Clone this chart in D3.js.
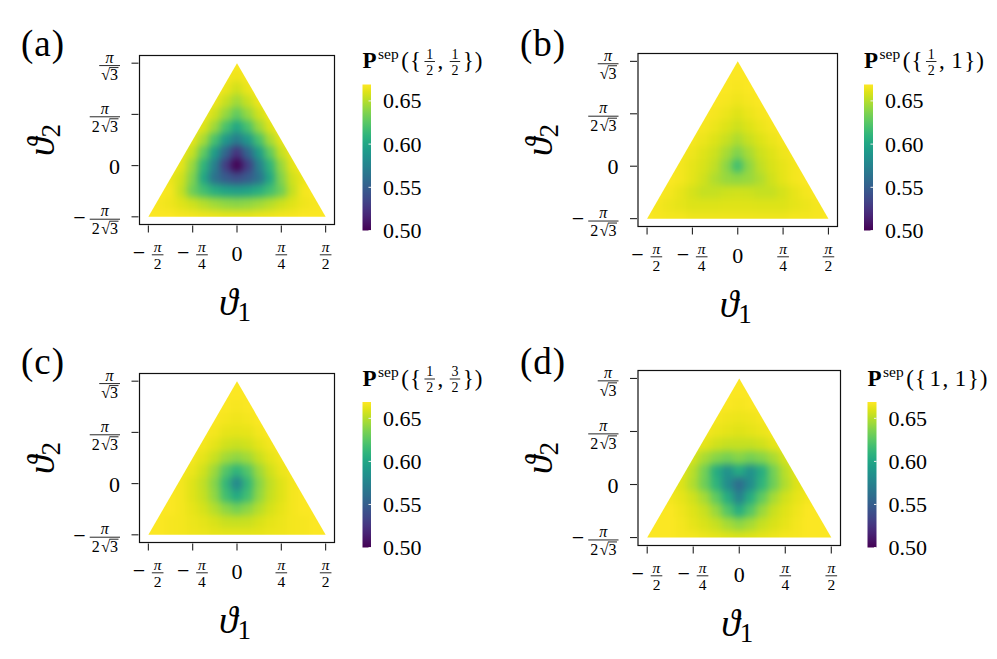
<!DOCTYPE html>
<html><head><meta charset="utf-8">
<script src="https://cdn.jsdelivr.net/npm/d3@7"></script>
<style>
body{margin:0;background:#fff}
svg{display:block}
text{font-family:"Liberation Serif","DejaVu Serif",serif;fill:#000}
</style></head><body>
<svg id="c" width="997" height="659"></svg>
<script>
const PI = Math.PI, S3 = Math.sqrt(3);

// ---- grid of sample points (theta1 columns, theta2 rows from top vertex down to bottom edge)
const theta1Grid = d3.range(-8, 9).map(k => k * PI / 16);
const theta2Grid = d3.range(0, 13).map(j => PI / S3 - j * PI / (8 * S3));

// ---- values (rows: top -> bottom, columns: left -> right)
const panelA = [
[.668,.668,.668,.668,.668,.668,.668,.668,.668,.668,.668,.668,.668,.668,.668,.668,.668],
[.668,.668,.668,.668,.668,.668,.668,.667,.665,.667,.668,.668,.668,.668,.668,.668,.668],
[.668,.668,.668,.668,.668,.668,.668,.664,.657,.664,.668,.668,.668,.668,.668,.668,.668],
[.668,.668,.668,.668,.668,.668,.665,.655,.645,.655,.665,.668,.668,.668,.668,.668,.668],
[.668,.668,.668,.668,.668,.666,.657,.642,.628,.642,.657,.666,.668,.668,.668,.668,.668],
[.668,.668,.668,.668,.668,.660,.644,.620,.600,.620,.644,.660,.668,.668,.668,.668,.668],
[.668,.668,.668,.668,.663,.647,.620,.590,.570,.590,.620,.647,.663,.668,.668,.668,.668],
[.668,.668,.668,.665,.654,.628,.593,.555,.525,.555,.593,.628,.654,.665,.668,.668,.668],
[.668,.668,.668,.662,.643,.610,.573,.530,.500,.530,.573,.610,.643,.662,.668,.668,.668],
[.668,.668,.664,.657,.637,.601,.564,.548,.540,.548,.564,.601,.637,.657,.664,.668,.668],
[.668,.668,.666,.654,.632,.618,.606,.598,.594,.598,.606,.618,.632,.654,.666,.668,.668],
[.668,.667,.665,.661,.656,.650,.645,.641,.639,.641,.645,.650,.656,.661,.665,.667,.668],
[.668,.668,.668,.667,.666,.665,.664,.662,.662,.662,.664,.665,.666,.667,.668,.668,.668]
];
const panelB = [
[.668,.668,.668,.668,.668,.668,.668,.668,.668,.668,.668,.668,.668,.668,.668,.668,.668],
[.668,.668,.668,.668,.668,.668,.668,.668,.668,.668,.668,.668,.668,.668,.668,.668,.668],
[.668,.668,.668,.668,.668,.668,.668,.668,.667,.668,.668,.668,.668,.668,.668,.668,.668],
[.668,.668,.668,.668,.668,.668,.668,.667,.665,.667,.668,.668,.668,.668,.668,.668,.668],
[.668,.668,.668,.668,.668,.668,.667,.664,.661,.664,.667,.668,.668,.668,.668,.668,.668],
[.668,.668,.668,.668,.668,.667,.664,.660,.656,.660,.664,.667,.668,.668,.668,.668,.668],
[.668,.668,.668,.668,.667,.664,.660,.655,.648,.655,.660,.664,.667,.668,.668,.668,.668],
[.668,.668,.668,.667,.665,.661,.656,.647,.637,.647,.656,.661,.665,.667,.668,.668,.668],
[.668,.668,.668,.666,.663,.659,.653,.640,.618,.640,.653,.659,.663,.666,.668,.668,.668],
[.668,.668,.668,.666,.662,.657,.649,.643,.641,.643,.649,.657,.662,.666,.668,.668,.668],
[.668,.668,.666,.663,.658,.654,.654,.656,.657,.656,.654,.654,.658,.663,.666,.668,.668],
[.667,.666,.664,.662,.660,.660,.660,.661,.661,.661,.660,.660,.660,.662,.664,.666,.667],
[.668,.667,.666,.666,.665,.665,.665,.665,.665,.665,.665,.665,.665,.666,.666,.667,.668]
];
const panelC = [
[.668,.668,.668,.668,.668,.668,.668,.668,.668,.668,.668,.668,.668,.668,.668,.668,.668],
[.668,.668,.668,.668,.668,.668,.668,.668,.668,.668,.668,.668,.668,.668,.668,.668,.668],
[.668,.668,.668,.668,.668,.668,.668,.668,.667,.668,.668,.668,.668,.668,.668,.668,.668],
[.668,.668,.668,.668,.668,.668,.668,.666,.665,.666,.668,.668,.668,.668,.668,.668,.668],
[.668,.668,.668,.668,.668,.668,.666,.663,.662,.663,.666,.668,.668,.668,.668,.668,.668],
[.668,.668,.668,.668,.668,.666,.662,.657,.655,.657,.662,.666,.668,.668,.668,.668,.668],
[.668,.668,.668,.668,.666,.662,.655,.645,.640,.645,.655,.662,.666,.668,.668,.668,.668],
[.668,.668,.668,.667,.664,.657,.644,.624,.610,.624,.644,.657,.664,.667,.668,.668,.668],
[.668,.668,.668,.666,.661,.653,.638,.612,.578,.612,.638,.653,.661,.666,.668,.668,.668],
[.668,.668,.668,.666,.661,.654,.641,.618,.602,.618,.641,.654,.661,.666,.668,.668,.668],
[.668,.668,.668,.666,.663,.658,.650,.640,.634,.640,.650,.658,.663,.666,.668,.668,.668],
[.668,.668,.667,.666,.664,.662,.659,.655,.654,.655,.659,.662,.664,.666,.667,.668,.668],
[.668,.668,.667,.666,.665,.664,.663,.662,.662,.662,.663,.664,.665,.666,.667,.668,.668]
];
const panelD = [
[.668,.668,.668,.668,.668,.668,.668,.668,.668,.668,.668,.668,.668,.668,.668,.668,.668],
[.668,.668,.668,.668,.668,.668,.668,.668,.668,.668,.668,.668,.668,.668,.668,.668,.668],
[.668,.668,.668,.668,.668,.668,.668,.668,.667,.668,.668,.668,.668,.668,.668,.668,.668],
[.668,.668,.668,.668,.668,.668,.667,.665,.664,.665,.667,.668,.668,.668,.668,.668,.668],
[.668,.668,.668,.668,.668,.667,.664,.662,.661,.662,.664,.667,.668,.668,.668,.668,.668],
[.668,.668,.668,.668,.666,.662,.657,.654,.654,.654,.657,.662,.666,.668,.668,.668,.668],
[.668,.668,.668,.665,.658,.647,.638,.634,.638,.634,.638,.647,.658,.665,.668,.668,.668],
[.668,.668,.666,.662,.651,.633,.605,.585,.603,.585,.605,.633,.651,.662,.666,.668,.668],
[.668,.668,.665,.660,.649,.632,.610,.582,.560,.582,.610,.632,.649,.660,.665,.668,.668],
[.668,.668,.666,.663,.657,.646,.628,.605,.575,.605,.628,.646,.657,.663,.666,.668,.668],
[.668,.668,.668,.665,.661,.655,.643,.624,.605,.624,.643,.655,.661,.665,.668,.668,.668],
[.668,.668,.668,.666,.663,.659,.654,.646,.640,.646,.654,.659,.663,.666,.668,.668,.668],
[.668,.668,.668,.667,.666,.664,.662,.660,.659,.660,.662,.664,.666,.667,.668,.668,.668]
];

// ---- axes / ticks / labels
const xTickValues = [-PI/2, -PI/4, 0, PI/4, PI/2];
const xTickLabels = [{s:'−', n:'π', d:'2'}, {s:'−', n:'π', d:'4'}, {t:'0'}, {s:'', n:'π', d:'4'}, {s:'', n:'π', d:'2'}];
const yTickValues = [-PI/(2*S3), 0, PI/(2*S3), PI/S3];
const yTickLabels = [{s:'−', n:'π', d:'2√3'}, {t:'0'}, {s:'', n:'π', d:'2√3'}, {s:'', n:'π', d:'√3'}];
const cbTicks = [0.50, 0.55, 0.60, 0.65];
const cbTickLabels = ['0.50', '0.55', '0.60', '0.65'];
const cbRange = [0.5, 0.669];
const panelLetters = ['(a)', '(b)', '(c)', '(d)'];
const cbArgs = [[['1','2'],['1','2']], [['1','2'],'1'], [['1','2'],['3','2']], ['1','1']];
const triangle = [[-PI/2, -PI/(2*S3)], [PI/2, -PI/(2*S3)], [0, PI/S3]];
const xDomain = [-1.1*PI/2, 1.1*PI/2];
const yPad = 0.05 * 1.5 * PI / S3;
const yDomain = [-PI/(2*S3) - yPad, PI/S3 + yPad];

// layout (pixels)
const layout = [
  {fx0:139.5, fx1:334.5, fy0:55.5, fy1:224.5, cx0:362.5, cx1:371, cy0:84.5, cy1:230.5, lx:21, ly:56},
  {fx0:638, fx1:837.5, fy0:53.5, fy1:226.5, cx0:864, cx1:873, cy0:84.5, cy1:230.5, lx:520, ly:56},
  {fx0:139.5, fx1:334.5, fy0:373.5, fy1:542.5, cx0:362.5, cx1:371, cy0:402, cy1:547.5, lx:21, ly:374},
  {fx0:638, fx1:840.5, fy0:370.5, fy1:545.5, cx0:867.5, cx1:876.5, cy0:402, cy1:547.5, lx:520, ly:374}
];
const datasets = [panelA, panelB, panelC, panelD];

const svg = d3.select('#c');
const defs = svg.append('defs');
const color = d3.scaleSequential(d3.interpolateViridis).domain(cbRange);

const filt = defs.append('filter').attr('id','soft')
  .attr('filterUnits','userSpaceOnUse').attr('x',0).attr('y',0).attr('width',997).attr('height',659)
  .attr('color-interpolation-filters','sRGB');
filt.append('feGaussianBlur').attr('stdDeviation', 3.9);

const grad = defs.append('linearGradient').attr('id','vir').attr('x1',0).attr('y1',1).attr('x2',0).attr('y2',0);
d3.range(0, 1.0001, 0.05).forEach(t => grad.append('stop').attr('offset', t).attr('stop-color', color(cbRange[0] + t*(cbRange[1]-cbRange[0]))));

function measure(s, size, style, weight) {
  const t = svg.append('text').attr('font-size', size).attr('font-style', style||'normal').attr('font-weight', weight||'normal').text(s);
  const w = t.node().getComputedTextLength(); t.remove(); return w;
}

function denParts(den, size) {
  const ri = den.indexOf('√');
  if (ri < 0) return {root:false, w: measure(den, size)};
  const pre = den.slice(0, ri), rad = den.slice(ri + 1);
  const preW = pre ? measure(pre, size) + 1.5 : 0, rootW = measure('√', size), radW = measure(rad, size);
  return {root:true, pre, rad, preW, rootW, radW, w: preW + rootW + radW};
}
function fracWidth(num, den, size) {
  const numW = measure(num, size, num === 'π' ? 'italic' : 'normal');
  return Math.max(numW, denParts(den, size).w) + size * 0.25;
}
// fraction drawn as tspans of text element T (created if absent) plus bar line
function drawFrac(g, cx, barY, num, den, size, numOff, denOff, T) {
  const bw = fracWidth(num, den, size);
  g.append('line').attr('x1', cx - bw/2).attr('x2', cx + bw/2).attr('y1', barY).attr('y2', barY)
    .attr('stroke', '#000').attr('stroke-width', 0.85);
  const numW = measure(num, size, num === 'π' ? 'italic' : 'normal');
  if (!T) T = g.append('text');
  T.append('tspan').attr('x', cx - numW/2).attr('y', barY - numOff).attr('font-size', size)
    .attr('font-style', num === 'π' ? 'italic' : 'normal').text(num);
  const dp = denParts(den, size);
  const dy = barY + denOff;
  if (dp.root) {
    const x0 = cx - dp.w / 2;
    if (dp.pre) T.append('tspan').attr('x', x0).attr('y', dy).attr('font-size', size).attr('font-style', 'normal').text(dp.pre);
    T.append('tspan').attr('x', x0 + dp.preW).attr('y', dy).attr('font-size', size).attr('font-style', 'normal').text('√');
    T.append('tspan').attr('x', x0 + dp.preW + dp.rootW).attr('y', dy).attr('font-size', size).attr('font-style', 'normal').text(dp.rad);
    const oy = dy - size * 0.8;
    g.append('line').attr('x1', x0 + dp.preW + dp.rootW - 0.6).attr('x2', x0 + dp.w + 0.5)
      .attr('y1', oy).attr('y2', oy).attr('stroke', '#000').attr('stroke-width', 0.85);
  } else {
    T.append('tspan').attr('x', cx - dp.w/2).attr('y', dy).attr('font-size', size).attr('font-style', 'normal').text(den);
  }
  return bw;
}

const FS = 22, FR = 16, FRX = 15.5, FM = 22;

layout.forEach((L, i) => {
  const data = datasets[i];
  const x = d3.scaleLinear().domain(xDomain).range([L.fx0, L.fx1]);
  const y = d3.scaleLinear().domain(yDomain).range([L.fy1, L.fy0]);
  const g = svg.append('g');

  // heat map cells, softened and clipped to the triangle
  const cid = 'tri' + i;
  defs.append('clipPath').attr('id', cid).append('polygon')
    .attr('points', triangle.map(d => [x(d[0]), y(d[1])].join(',')).join(' '));
  const heat = g.append('g').attr('clip-path', `url(#${cid})`).append('g').attr('filter', 'url(#soft)');
  heat.append('rect').attr('x', L.fx0 - 20).attr('y', L.fy0 - 20).attr('width', L.fx1 - L.fx0 + 40).attr('height', L.fy1 - L.fy0 + 40)
    .attr('fill', color(d3.max(data.flat())));
  const dx = PI / 16, dyv = PI / (8 * S3);
  const cw = x(dx) - x(0), ch = y(0) - y(dyv);
  data.forEach((row, j) => row.forEach((v, k) => {
    heat.append('rect')
      .attr('x', x(theta1Grid[k]) - cw/2 - 0.3).attr('y', y(theta2Grid[j]) - ch/2 - 0.3)
      .attr('width', cw + 0.6).attr('height', ch + 0.6).attr('fill', color(v));
  }));

  // frame
  g.append('rect').attr('x', L.fx0).attr('y', L.fy0).attr('width', L.fx1 - L.fx0).attr('height', L.fy1 - L.fy0)
    .attr('fill', 'none').attr('stroke', '#111').attr('stroke-width', 1.2);

  // x ticks
  xTickValues.forEach((v, t) => {
    const px = x(v);
    g.append('line').attr('x1', px).attr('x2', px).attr('y1', L.fy1 + 1).attr('y2', L.fy1 + 8).attr('stroke', '#222').attr('stroke-width', 1.1);
    const lab = xTickLabels[t];
    const barY = L.fy1 + 30.3;
    if (lab.t) {
      g.append('text').attr('x', px).attr('y', L.fy1 + 36.5).attr('text-anchor', 'middle').attr('font-size', FS).text(lab.t);
    } else if (lab.s) {
      g.append('text').attr('x', px - 9.5).attr('y', barY + 5.4).attr('text-anchor', 'middle').attr('font-size', FM).text(lab.s);
      drawFrac(g, px + 9.3, barY, lab.n, lab.d, FRX, 3.3, 13.9);
    } else {
      drawFrac(g, px, barY, lab.n, lab.d, FRX, 3.3, 13.9);
    }
  });

  // y ticks
  yTickValues.forEach((v, t) => {
    const py = y(v);
    g.append('line').attr('x1', L.fx0 - 8).attr('x2', L.fx0 - 1).attr('y1', py).attr('y2', py).attr('stroke', '#222').attr('stroke-width', 1.1);
    const lab = yTickLabels[t];
    const right = L.fx0 - 19.5;
    if (lab.t) {
      g.append('text').attr('x', right).attr('y', py + 8).attr('text-anchor', 'end').attr('font-size', FS).text(lab.t);
    } else {
      const bw = fracWidth(lab.n, lab.d, FR);
      const cx = right - bw / 2;
      const barY = py + 2.4;
      drawFrac(g, cx, barY, lab.n, lab.d, FR, 3.0, 14.8);
      if (lab.s) g.append('text').attr('x', cx - bw/2 - 4).attr('y', barY + 5.4).attr('text-anchor', 'end').attr('font-size', FM).text(lab.s);
    }
  });

  // axis labels
  const axl = g.append('text').attr('x', (L.fx0 + L.fx1) / 2 - 2).attr('y', L.fy1 + 90).attr('text-anchor', 'middle');
  axl.append('tspan').attr('font-size', 38).attr('font-style', 'italic').text('ϑ');
  axl.append('tspan').attr('font-size', 27).attr('dy', 6).text('1');
  const ayl = g.append('text').attr('transform', `translate(${L.fx0 - 86},${(L.fy0 + L.fy1) / 2}) rotate(-90)`).attr('text-anchor', 'middle');
  ayl.append('tspan').attr('font-size', 38).attr('font-style', 'italic').text('ϑ');
  ayl.append('tspan').attr('font-size', 27).attr('dy', 6).text('2');

  // panel letter
  g.append('text').attr('x', L.lx).attr('y', L.ly).attr('font-size', 37).attr('letter-spacing', 1).text(panelLetters[i]);

  // colorbar
  const cy = d3.scaleLinear().domain(cbRange).range([L.cy1, L.cy0]);
  g.append('rect').attr('x', L.cx0).attr('y', L.cy0).attr('width', L.cx1 - L.cx0).attr('height', L.cy1 - L.cy0).attr('fill', 'url(#vir)');
  cbTicks.forEach((v, t) => {
    g.append('line').attr('x1', L.cx1 - 2.5).attr('x2', L.cx1).attr('y1', cy(v)).attr('y2', cy(v)).attr('stroke', '#eee').attr('stroke-width', 1);
    g.append('text').attr('x', L.cx1 + 12).attr('y', cy(v) + 7.5).attr('font-size', FS).text(cbTickLabels[t]);
  });

  // colorbar label: P^sep({a, b}) — one text element with positioned tspans (fractions included)
  const by = L.cy0 - 16.5;
  let cx = L.cx0;
  const lab = g.append('text');
  const put = (s, size, opts = {}) => {
    const w = measure(s, size, opts.st, opts.w);
    lab.append('tspan').attr('x', cx).attr('y', opts.y || by).attr('font-size', size)
      .attr('font-weight', opts.w || 'normal').attr('font-style', opts.st || 'normal').text(s);
    cx += w + (opts.gap || 0);
  };
  put('P', 23, {w: 'bold', gap: 1.5});
  put('sep', 15.5, {y: by - 9, gap: 2.5});
  put('(', 23, {gap: 1}); put('{', 23, {gap: 3.5});
  const arg = a => {
    if (Array.isArray(a)) {
      const bw = fracWidth(a[0], a[1], 14);
      drawFrac(g, cx + bw/2, by - 6.5, a[0], a[1], 14, 3, 13, lab);
      cx += bw + 2.5;
    } else put(a, 23, {gap: 1.5});
  };
  arg(cbArgs[i][0]);
  put(',', 23, {gap: 6.5});
  arg(cbArgs[i][1]);
  put('}', 23, {gap: 1}); put(')', 23);
});
</script>
</body></html>
